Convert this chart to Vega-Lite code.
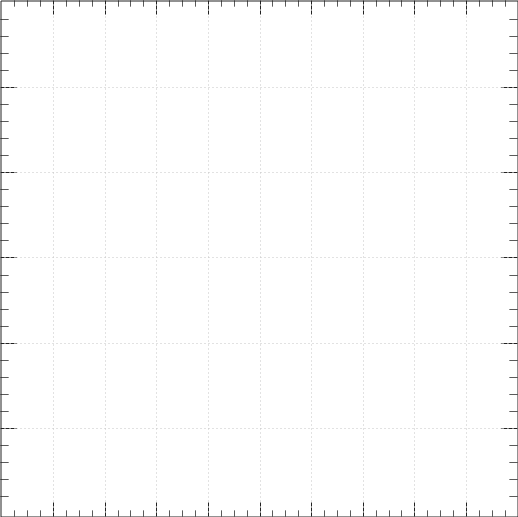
{
  "$schema": "https://vega.github.io/schema/vega-lite/v6.json",
  "width": 517,
  "height": 516,
  "autosize": {"type": "none"},
  "padding": {"left": 0.5, "top": 0.5, "right": 0, "bottom": 0},
  "background": "white",
  "config": {
    "view": {"stroke": "#222222", "strokeWidth": 1},
    "axis": {"labels": false, "title": null, "domain": false, "translate": 0}
  },
  "data": {"values": [{"x": 0, "y": 0}, {"x": 10, "y": 6}]},
  "resolve": {"axis": {"x": "independent", "y": "independent"}},
  "layer": [
    {
      "mark": {"type": "point", "opacity": 0},
      "encoding": {
        "x": {
          "field": "x", "type": "quantitative",
          "scale": {"domain": [-0.027, 9.988], "nice": false, "zero": false},
          "axis": {
            "orient": "bottom",
            "values": [0.25,0.5,0.75,1,1.25,1.5,1.75,2,2.25,2.5,2.75,3,3.25,3.5,3.75,4,4.25,4.5,4.75,5,5.25,5.5,5.75,6,6.25,6.5,6.75,7,7.25,7.5,7.75,8,8.25,8.5,8.75,9,9.25,9.5,9.75],
            "grid": true,
            "gridColor": "#c4c4c4",
            "gridDash": [1, 3],
            "gridWidth": 1,
            "gridOpacity": {"condition": {"test": "datum.value % 1 === 0", "value": 1}, "value": 0},
            "tickColor": "#222222",
            "tickWidth": 1,
            "tickSize": {"condition": {"test": "datum.value % 1 === 0", "value": -15}, "value": -6},
            "tickDash": {"condition": {"test": "datum.value % 1 === 0", "value": [4, 1]}, "value": [1, 0]}
          }
        },
        "y": {
          "field": "y", "type": "quantitative",
          "scale": {"domain": [-0.032, 6.02], "nice": false, "zero": false},
          "axis": {
            "orient": "left",
            "values": [0.2,0.4,0.6,0.8,1,1.2,1.4,1.6,1.8,2,2.2,2.4,2.6,2.8,3,3.2,3.4,3.6,3.8,4,4.2,4.4,4.6,4.8,5,5.2,5.4,5.6,5.8],
            "grid": true,
            "gridColor": "#c4c4c4",
            "gridDash": [1, 3],
            "gridWidth": 1,
            "gridOpacity": {"condition": {"test": "abs(datum.value - round(datum.value)) < 0.001", "value": 1}, "value": 0},
            "tickColor": "#222222",
            "tickWidth": 1,
            "tickSize": {"condition": {"test": "abs(datum.value - round(datum.value)) < 0.001", "value": -16}, "value": -8},
            "tickDash": {"condition": {"test": "abs(datum.value - round(datum.value)) < 0.001", "value": [4, 1]}, "value": [1, 0]}
          }
        }
      }
    },
    {
      "mark": {"type": "point", "opacity": 0},
      "encoding": {
        "x": {
          "field": "x", "type": "quantitative",
          "axis": {
            "orient": "top",
            "values": [0.25,0.5,0.75,1,1.25,1.5,1.75,2,2.25,2.5,2.75,3,3.25,3.5,3.75,4,4.25,4.5,4.75,5,5.25,5.5,5.75,6,6.25,6.5,6.75,7,7.25,7.5,7.75,8,8.25,8.5,8.75,9,9.25,9.5,9.75],
            "grid": false,
            "tickColor": "#222222",
            "tickWidth": 1,
            "tickSize": {"condition": {"test": "datum.value % 1 === 0", "value": -15}, "value": -6},
            "tickDash": {"condition": {"test": "datum.value % 1 === 0", "value": [4, 1]}, "value": [1, 0]}
          }
        },
        "y": {
          "field": "y", "type": "quantitative",
          "axis": {
            "orient": "right",
            "values": [0.2,0.4,0.6,0.8,1,1.2,1.4,1.6,1.8,2,2.2,2.4,2.6,2.8,3,3.2,3.4,3.6,3.8,4,4.2,4.4,4.6,4.8,5,5.2,5.4,5.6,5.8],
            "grid": false,
            "tickColor": "#222222",
            "tickWidth": 1,
            "tickSize": {"condition": {"test": "abs(datum.value - round(datum.value)) < 0.001", "value": -16}, "value": -8},
            "tickDash": {"condition": {"test": "abs(datum.value - round(datum.value)) < 0.001", "value": [4, 1]}, "value": [1, 0]}
          }
        }
      }
    }
  ]
}
